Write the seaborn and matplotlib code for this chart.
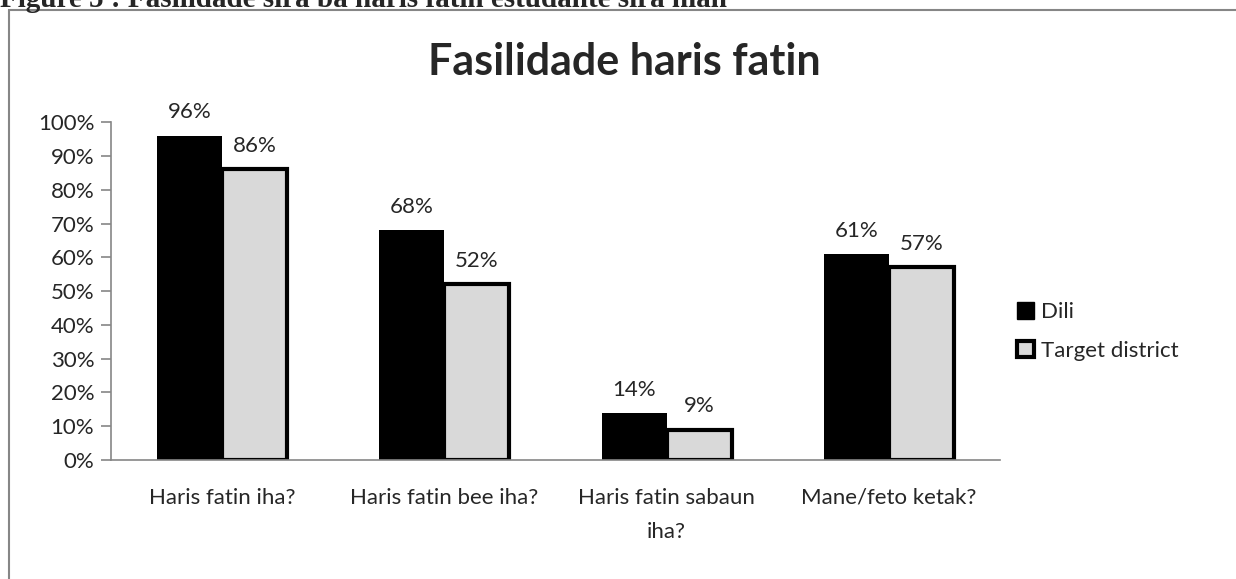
import pandas as pd
import matplotlib.pyplot as plt
import matplotlib.patches as mpatches
import seaborn as sns

# Data
questions = ['Haris fatin iha?', 'Haris fatin bee iha?', 'Haris fatin sabaun\niha?', 'Mane/feto ketak?']
dili = [96, 68, 14, 61]
target = [86, 52, 9, 57]
groups = ['Dili', 'Target district']

df = pd.DataFrame({
    'question': questions * 2,
    'value': dili + target,
    'group': [groups[0]] * len(questions) + [groups[1]] * len(questions),
})

sns.set_style('white')
plt.rcParams['font.family'] = ['Lato', 'DejaVu Sans']

fig = plt.figure(figsize=(12.36, 5.79), dpi=100)
ax = fig.add_axes([0.0898, 0.2055, 0.7192, 0.5835])

sns.barplot(data=df, x='question', y='value', hue='group',
            palette=['black', '#d9d9d9'], width=0.585, gap=0,
            linewidth=0, ax=ax)

# thick black outline on target bars
for bar in ax.containers[1]:
    bar.set_edgecolor('black')
    bar.set_linewidth(3)

for cont in ax.containers:
    ax.bar_label(cont, labels=[f'{v:.0f}%' for v in cont.datavalues],
                 padding=9.5, fontsize=16)

ax.set_ylim(0, 100)
ax.set_yticks(range(0, 101, 10))
ax.set_yticklabels([f'{t}%' for t in range(0, 101, 10)], fontsize=16)
ax.set_xlim(-0.5, 3.5)
ax.set_xticks(range(4))
ax.set_xticklabels(questions, fontsize=16, linespacing=1.9)
ax.set_xticks([-0.5, 0.5, 1.5, 2.5, 3.5], minor=True)
ax.tick_params(axis='x', which='major', length=0, pad=20)
ax.tick_params(axis='x', which='minor', length=7, color='#868686', width=1.2, direction='out')
ax.tick_params(axis='y', length=7, color='#868686', width=1.2, direction='out', left=True, pad=5)
ax.set_xlabel('')
ax.set_ylabel('')

for s in ['top', 'right']:
    ax.spines[s].set_visible(False)
for s in ['left', 'bottom']:
    ax.spines[s].set_color('#868686')
    ax.spines[s].set_linewidth(1.2)

# chart title centred over the whole chart area
fig.text(624 / 1236, 1 - 62 / 579, 'Fasilidade haris fatin', fontsize=31,
         fontweight='bold', ha='center', va='center')

# legend
handles = [mpatches.Patch(facecolor='black', edgecolor='black', label=groups[0]),
           mpatches.Patch(facecolor='#d9d9d9', edgecolor='black', linewidth=3, label=groups[1])]
ax.legend(handles=handles, loc='center left', bbox_to_anchor=(0.997, 0.38),
          frameon=False, fontsize=16, handlelength=0.75, handleheight=0.75,
          handletextpad=0.3, labelspacing=0.85)

# outer chart border and clipped caption
fig.patches.append(mpatches.Rectangle((9 / 1236, -0.05), 1.1, 1 - 10 / 579 + 0.05,
                                      transform=fig.transFigure, fill=False,
                                      edgecolor='#868686', linewidth=1.5))
fig.text(0.0, 1.0 - 7 / 579, 'Figure 5 : Fasilidade sira ba haris fatin estudante sira nian',
         family='Liberation Serif', fontweight='bold', fontsize=21, va='baseline')

fig.savefig('out.png', dpi=100)
